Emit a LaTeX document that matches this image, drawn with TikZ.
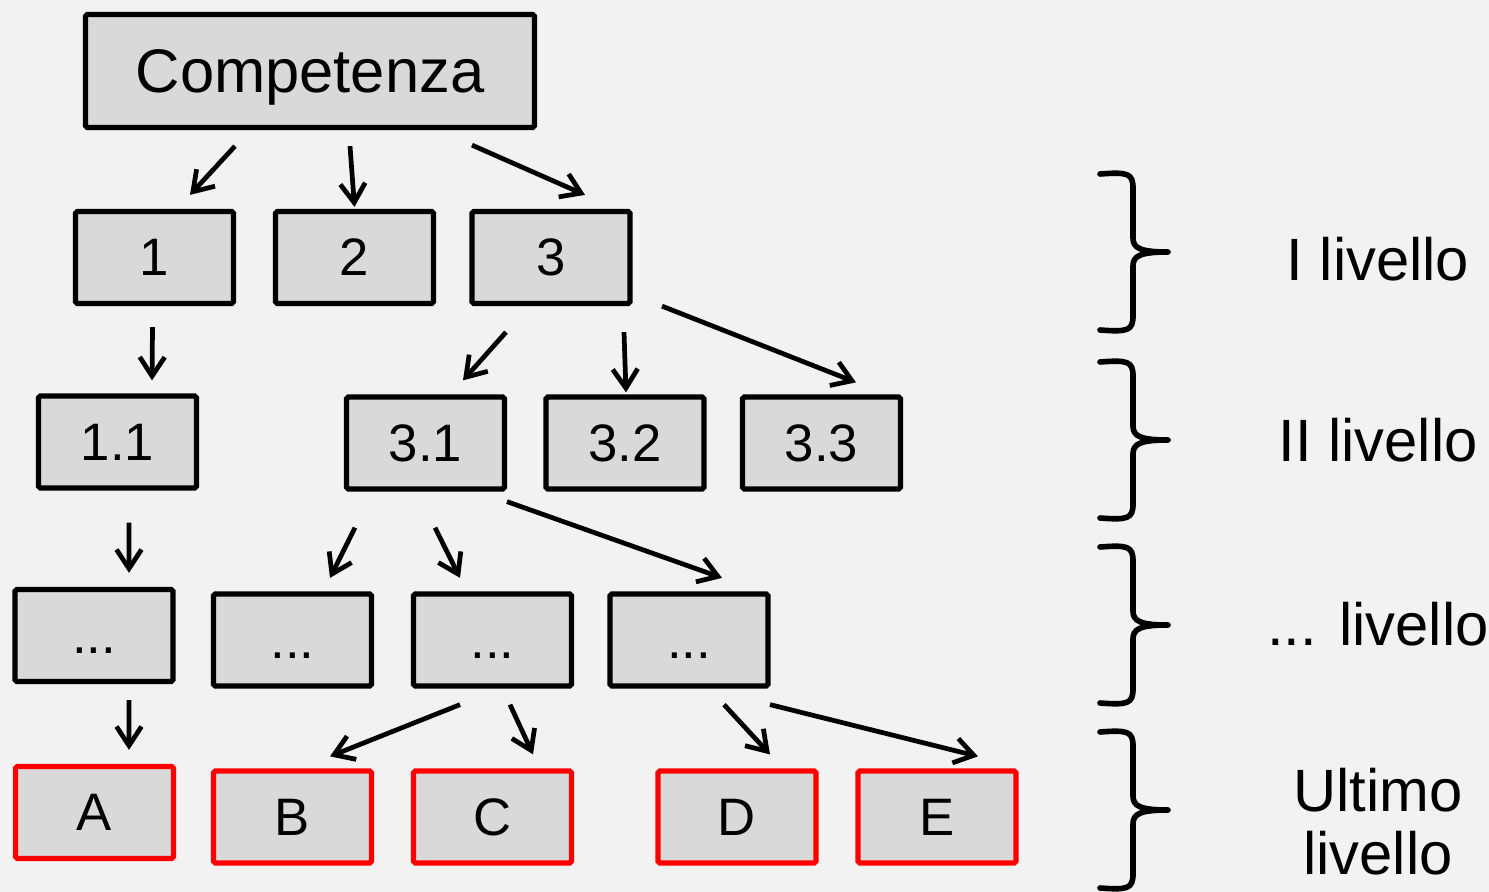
\documentclass[tikz,border=0pt]{standalone}
\usepackage{fontspec}
\setmainfont{Liberation Sans}
\usetikzlibrary{arrows.meta, calc}
\definecolor{bggray}{RGB}{242,242,242}
\definecolor{boxgray}{RGB}{217,217,217}
\definecolor{leafred}{RGB}{255,0,0}

\begin{document}
\begin{tikzpicture}[x=0.02cm, y=-0.02cm,
  box/.style={draw=black, fill=boxgray, line width=3pt, rounded corners=1pt,
    minimum width=3.16cm, minimum height=1.84cm, inner sep=0pt,
    font=\fontsize{30}{36}\selectfont, text height=21pt, text depth=0pt},
  leaf/.style={box, draw=leafred},
  arr/.style={line width=2.7pt, -{Straight Barb[length=0.38cm, width=0.5cm]}},
  brc/.style={line width=3.2pt, line cap=round, line join=round},
  lbl/.style={font=\fontsize{34}{36}\selectfont, align=center}]

% Background
\path[use as bounding box, fill=bggray] (0,0) rectangle (1489,892);

% Root
\node[box, minimum width=8.98cm, minimum height=2.26cm,
  font=\fontsize{35}{40}\selectfont, text height=25pt] (comp) at (310,71) {Competenza};

% I livello
\node[box] (n1) at (154.5,257.5) {1};
\node[box] (n2) at (354.5,257.5) {2};
\node[box] (n3) at (551,257.5) {3};

% II livello
\node[box] (n11) at (117.5,442) {1.1};
\node[box] (n31) at (425.5,443) {3.1};
\node[box] (n32) at (625,443) {3.2};
\node[box] (n33) at (821.5,443) {3.3};

% ... livello
\node[box] (d1) at (94,635.5) {...};
\node[box] (d2) at (292.5,640) {...};
\node[box] (d3) at (492.5,640) {...};
\node[box] (d4) at (689,640) {...};

% Ultimo livello
\node[leaf] (la) at (94.5,812.5) {A};
\node[leaf] (lb) at (292.5,817) {B};
\node[leaf] (lc) at (492.5,817) {C};
\node[leaf] (ld) at (737,817) {D};
\node[leaf] (le) at (937,817) {E};

% Arrows
\draw[arr] ($(comp.south)+(-75,16)$) -- ($(n1.north)+(35.5,-14)$);
\draw[arr] ($(comp.south)+(40,16)$) -- ($(n2.north)+(0,-2)$);
\draw[arr] ($(comp.south)+(162,15)$) -- ($(n3.north)+(34,-14)$);
\draw[arr] ($(n1.south)+(-2,21)$) -- ($(n11.north)+(34.5,-13)$);
\draw[arr] ($(n3.south)+(-45,26)$) -- ($(n31.north)+(37.5,-14)$);
\draw[arr] ($(n3.south)+(73,26)$) -- ($(n32.north)+(1,-2)$);
\draw[arr] ($(n3.south)+(111,0)$) -- ($(n33.north)+(34.5,-12)$);
\draw[arr] ($(n11.south)+(11.5,32)$) -- ($(d1.north)+(35,-14)$);
\draw[arr] ($(n31.south)+(-70.5,36)$) -- ($(d2.north)+(37.5,-13.5)$);
\draw[arr] ($(n31.south)+(9.5,36)$) -- ($(d3.north)+(-32.5,-13.5)$);
\draw[arr] ($(n31.south)+(81.5,10)$) -- ($(d4.north)+(33,-13.5)$);
\draw[arr] ($(d1.south)+(35,16)$) -- ($(la.north)+(34.5,-14)$);
\draw[arr] ($(d3.south)+(-32.5,16)$) -- ($(lb.north)+(37.5,-12)$);
\draw[arr] ($(d3.south)+(17.5,16)$) -- ($(lc.north)+(40.5,-14)$);
\draw[arr] ($(d4.south)+(35,16)$) -- ($(ld.north)+(33,-14)$);
\draw[arr] ($(d4.south)+(81,16)$) -- ($(le.north)+(41,-12)$);

% Braces
\foreach \t in {172,360,545,730}{
  \begin{scope}[shift={(0,\t)}]
    \draw[brc] (1100,2) .. controls (1127,0) and (1133,1) .. (1133,16) -- (1133,66)
      .. controls (1133,76) and (1140,80) .. (1168,80)
      .. controls (1140,80) and (1133,84) .. (1133,94) -- (1133,144)
      .. controls (1133,159) and (1127,160) .. (1100,158);
  \end{scope}
}

% Level labels
\node[lbl] (lv1) at (1378,259) {I livello};
\node[lbl] (lv2) at (1378,440) {II livello};
\node[lbl] (lv3) at (1378,624) {... livello};
\node[lbl] (lv4) at (1378,822) {Ultimo\\livello};
\end{tikzpicture}
\end{document}
